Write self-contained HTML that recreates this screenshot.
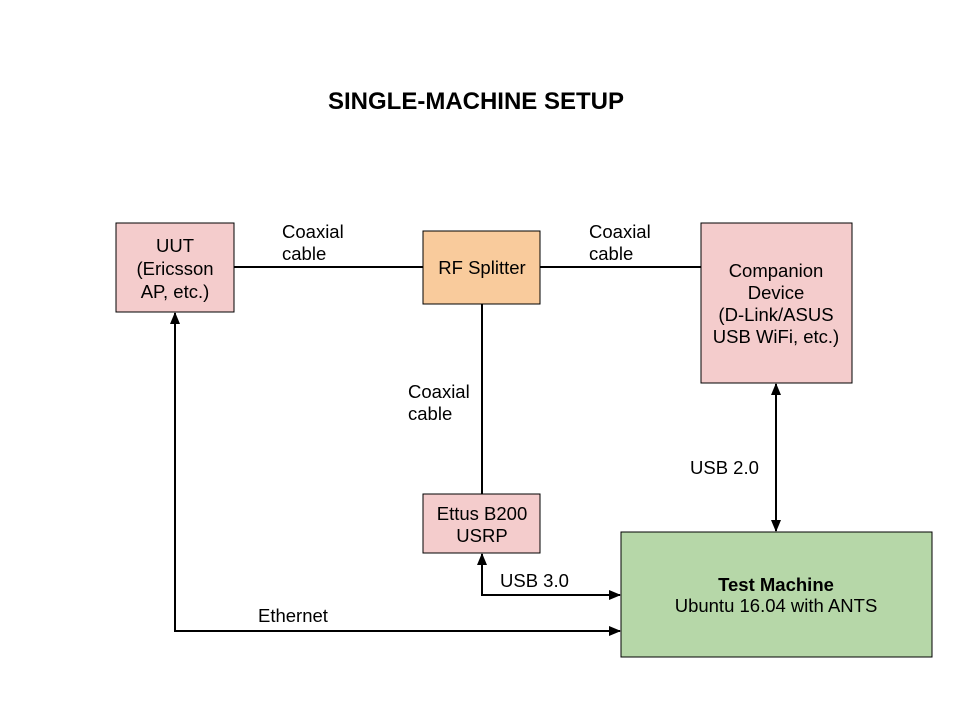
<!DOCTYPE html>
<html><head><meta charset="utf-8"><style>
html,body{margin:0;padding:0;background:#fff;}
svg{display:block;}
text{font-family:"Liberation Sans",Arial,sans-serif;font-size:18.5px;fill:#000;}
</style></head><body>
<svg width="960" height="720" viewBox="0 0 960 720" xmlns="http://www.w3.org/2000/svg">
<defs>
<marker id="a" markerWidth="12" markerHeight="10" refX="11" refY="5" orient="auto-start-reverse" markerUnits="userSpaceOnUse">
<path d="M0,0 L12,5 L0,10 z" fill="#000"/></marker>
</defs>
<text x="476" y="109" text-anchor="middle" style="font-size:24px;font-weight:bold">SINGLE-MACHINE SETUP</text>

<g stroke="#000" stroke-width="2" fill="none">
<line x1="234" y1="267" x2="423" y2="267"/>
<line x1="540" y1="267" x2="701" y2="267"/>
<line x1="482" y1="304" x2="482" y2="494"/>
<path d="M175 313 L175 631 L620 631" marker-start="url(#a)" marker-end="url(#a)"/>
<path d="M482 554 L482 595 L620 595" marker-start="url(#a)" marker-end="url(#a)"/>
<line x1="776" y1="384" x2="776" y2="531" marker-start="url(#a)" marker-end="url(#a)"/>
</g>

<g stroke="#000" stroke-width="1">
<rect x="116" y="223" width="118" height="89" fill="#f4cccc"/>
<rect x="423" y="231" width="117" height="73" fill="#f9cb9c"/>
<rect x="701" y="223" width="151" height="160" fill="#f4cccc"/>
<rect x="423" y="494" width="117" height="59" fill="#f4cccc"/>
<rect x="621" y="532" width="311" height="125" fill="#b6d7a8"/>
</g>

<g text-anchor="middle">
<text x="175" y="252">UUT</text>
<text x="175" y="275">(Ericsson</text>
<text x="175" y="298">AP, etc.)</text>
<text x="482" y="274">RF Splitter</text>
<text x="776" y="277">Companion</text>
<text x="776" y="299">Device</text>
<text x="776" y="321">(D-Link/ASUS</text>
<text x="776" y="343">USB WiFi, etc.)</text>
<text x="482" y="520">Ettus B200</text>
<text x="482" y="542">USRP</text>
<text x="776" y="591" style="font-weight:bold">Test Machine</text>
<text x="776" y="612">Ubuntu 16.04 with ANTS</text>
</g>

<text x="282" y="238">Coaxial</text>
<text x="282" y="260">cable</text>
<text x="589" y="238">Coaxial</text>
<text x="589" y="260">cable</text>
<text x="408" y="398">Coaxial</text>
<text x="408" y="420">cable</text>
<text x="690" y="474">USB 2.0</text>
<text x="500" y="587">USB 3.0</text>
<text x="258" y="622">Ethernet</text>
</svg>
</body></html>
